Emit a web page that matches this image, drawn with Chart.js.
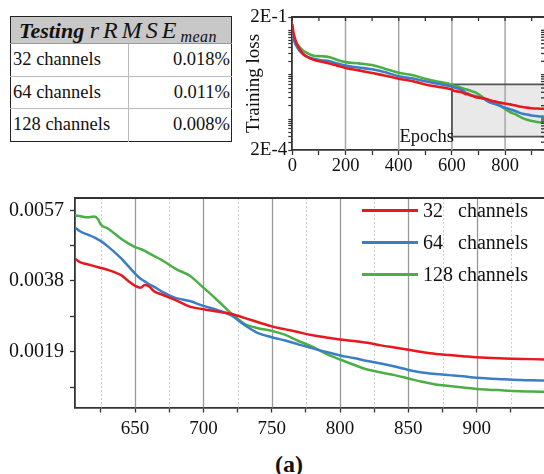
<!DOCTYPE html>
<html>
<head>
<meta charset="utf-8">
<title>Training loss</title>
<script src="https://cdn.jsdelivr.net/npm/chart.js@4.4.1/dist/chart.umd.min.js"></script>
<style>
  html, body { margin: 0; padding: 0; background: #fff; }
  body { position: relative; width: 544px; height: 474px; overflow: hidden; font-family: 'Liberation Serif', 'Times New Roman', serif; color: #111; }
  .chart-box { position: absolute; }
  #insetBox { left: 240px; top: 0; width: 310px; height: 180px; }
  #mainBox { left: 0; top: 180px; width: 550px; height: 262px; }
  #scoreTable { position: absolute; left: 10px; top: 16px; width: 222px; border-collapse: collapse; border: 1.5px solid #222; font-size: 18.5px; }
  #scoreTable th { background: #c8c8c8; height: 26px; padding: 0 0 0 8px; text-align: left; font-weight: normal; border-bottom: 1px solid #999; white-space: nowrap; font-size: 22px; line-height: 22px; }
  #scoreTable th .math { font-style: italic; font-size: 24px; letter-spacing: 4px; }
  #scoreTable th sub { font-size: 16px; letter-spacing: 0.5px; vertical-align: -4px; line-height: 0; }
  #scoreTable td { height: 31.5px; padding: 0 1px 0 2px; border-top: 1px solid #bbb; white-space: nowrap; }
  #scoreTable td.name { width: 114px; }
  #scoreTable td.val { text-align: right; border-left: 1px solid #bbb; }
  #legend { position: absolute; left: 362px; top: 194px; font-size: 20px; }
  .leg-row { height: 32px; display: flex; align-items: center; white-space: pre; }
  .leg-line { width: 56px; height: 3px; margin-right: 5px; }
  #caption { position: absolute; left: 259px; top: 452px; width: 60px; text-align: center; font-size: 24px; font-weight: bold; line-height: 24px; }
</style>
</head>
<body>
<table id="scoreTable">
  <thead><tr><th colspan="2"><b><i>Testing</i></b> <span class="math">rRMSE<sub>mean</sub></span></th></tr></thead>
  <tbody id="scoreRows"></tbody>
</table>
<div class="chart-box" id="insetBox"><canvas id="insetChart"></canvas></div>
<div class="chart-box" id="mainBox"><canvas id="mainChart"></canvas></div>
<div id="legend"></div>
<div id="caption">(a)</div>
<script>
// Chart.js configuration
Chart.defaults.font.family = "'Liberation Serif', 'Times New Roman', serif";
Chart.defaults.color = '#111';
Chart.defaults.animation = false;

// Table values
const tableNames = ['32 channels', '64 channels', '128 channels'];
const testRmse = ['0.018%', '0.011%', '0.008%'];

// Training loss per epoch
const legendLabels = ['32   channels', '64   channels', '128 channels'];
const epochs = [0, 2, 5, 10, 15, 20, 30, 40, 55, 80, 110, 140, 170, 200, 250, 300, 350, 400, 450, 500, 550, 600,
    606, 610, 615, 620, 623, 625, 630, 640, 645, 650, 654, 657, 660, 664, 670, 680, 690, 700, 710, 720, 730, 740,
    750, 760, 770, 780, 790, 800, 810, 820, 830, 840, 850, 860, 870, 880, 890, 900, 920, 940, 960];
const loss32 = [0.14, 0.11, 0.085, 0.065, 0.053, 0.046, 0.036, 0.03, 0.0255, 0.0216, 0.0195, 0.0178, 0.0158, 0.0142, 0.0125, 0.0109, 0.0095, 0.0081, 0.0072, 0.006, 0.0053, 0.0046,
    0.0044, 0.0043, 0.00425, 0.0042, 0.00417, 0.00415, 0.0041, 0.00395, 0.0038, 0.00367, 0.00362, 0.00369, 0.00366, 0.00352, 0.00343, 0.00328, 0.00311, 0.00304, 0.00298, 0.00292, 0.00281, 0.00269,
    0.00258, 0.0025, 0.00242, 0.00234, 0.00228, 0.00223, 0.00219, 0.00214, 0.00207, 0.00201, 0.00195, 0.00189, 0.00184, 0.00181, 0.00178, 0.00175, 0.00172, 0.0017, 0.00168];
const loss64 = [0.11, 0.085, 0.065, 0.052, 0.045, 0.04, 0.033, 0.029, 0.0255, 0.0228, 0.0212, 0.02, 0.0178, 0.016, 0.0145, 0.0132, 0.0113, 0.0092, 0.0083, 0.0071, 0.0062, 0.0054,
    0.00524, 0.00513, 0.00505, 0.00497, 0.00491, 0.00487, 0.00473, 0.0044, 0.0042, 0.004, 0.00386, 0.00379, 0.00372, 0.00364, 0.00351, 0.00334, 0.00326, 0.00313, 0.00302, 0.00288, 0.00262, 0.0024,
    0.00229, 0.0022, 0.00209, 0.00199, 0.00189, 0.0018, 0.00173, 0.00165, 0.00158, 0.0015, 0.00141, 0.00134, 0.0013, 0.00127, 0.00124, 0.0012, 0.00116, 0.00113, 0.00112];
const loss128 = [0.1, 0.085, 0.07, 0.058, 0.052, 0.047, 0.04, 0.035, 0.031, 0.0268, 0.026, 0.0248, 0.0215, 0.0192, 0.018, 0.0165, 0.0135, 0.011, 0.0098, 0.0081, 0.0069, 0.0059,
    0.00557, 0.00554, 0.00551, 0.00553, 0.00545, 0.00531, 0.00521, 0.00493, 0.00481, 0.00471, 0.00466, 0.00461, 0.00455, 0.00447, 0.00435, 0.00412, 0.00394, 0.00362, 0.00329, 0.00294, 0.00265, 0.00253,
    0.00246, 0.00235, 0.00218, 0.00203, 0.00184, 0.00169, 0.00155, 0.00142, 0.00134, 0.00127, 0.00118, 0.00109, 0.00102, 0.00098, 0.00094, 0.0009, 0.00086, 0.00083, 0.00082];

// Inset axes
const insetXMax = 950;
const insetXTicks = [0, 100, 200, 300, 400, 500, 600, 700, 800, 900];
const insetXLabels = [0, 200, 400, 600, 800];
const insetGrid = [200, 400, 600, 800];
const insetYMin = 2e-4;
const insetYMax = 2e-1;
const insetYTicks = [2e-4, 3e-4, 4e-4, 5e-4, 6e-4, 7e-4, 8e-4, 9e-4, 1e-3, 2e-3, 3e-3, 4e-3, 5e-3, 6e-3, 7e-3, 8e-3, 9e-3,
    1e-2, 2e-2, 3e-2, 4e-2, 5e-2, 6e-2, 7e-2, 8e-2, 9e-2, 1e-1, 2e-1];
const insetYLabelValues = [2e-4, 2e-1];
const insetYLabelTexts = ['2E-4', '2E-1'];

// Zoomed (main) axes
const zoomStart = 600;
const mainXMin = 606;
const mainXMax = 950;
const mainXTicks = [625, 650, 675, 700, 725, 750, 775, 800, 825, 850, 875, 900, 925, 950];
const mainXLabels = [650, 700, 750, 800, 850, 900];
const mainYMin = 0.0004;
const mainYMax = 0.00603;
const mainYTicks = [0.00095, 0.0019, 0.00285, 0.0038, 0.00475, 0.0057];
const mainYLabels = [0.0019, 0.0038, 0.0057];

const lineColors = ['#e8191e', '#3a7ec6', '#4caf45'];

function toPoints(values) {
    return epochs.map((e, i) => ({ x: e, y: values[i] }));
}

function makeDatasets(width) {
    return [loss32, loss64, loss128].map((values, i) => ({
        label: legendLabels[i],
        data: toPoints(values),
        borderColor: lineColors[i],
        backgroundColor: lineColors[i],
        borderWidth: width,
        pointRadius: 0,
        tension: 0.3,
        cubicInterpolationMode: 'monotone',
        fill: false
    }));
}

// table rows
const rows = document.getElementById('scoreRows');
tableNames.forEach((name, i) => {
    const tr = document.createElement('tr');
    tr.innerHTML = '<td class="name">' + name + '</td><td class="val">' + testRmse[i] + '</td>';
    rows.appendChild(tr);
});

const axisColor = '#333';

const insetDecor = {
    id: 'insetDecor',
    beforeDatasetsDraw(chart) {
        const { ctx, chartArea: a, scales: { x, y } } = chart;
        const bx = x.getPixelForValue(zoomStart);
        const by0 = y.getPixelForValue(mainYMax);
        const by1 = y.getPixelForValue(mainYMin);
        ctx.save();
        ctx.fillStyle = '#e9e9e9';
        ctx.fillRect(bx, by0, a.right + 6 - bx, by1 - by0);
        ctx.strokeStyle = '#a6a6a6';
        ctx.lineWidth = 1.5;
        insetGrid.forEach(v => {
            const px = x.getPixelForValue(v);
            ctx.beginPath();
            ctx.moveTo(px, a.top);
            ctx.lineTo(px, a.bottom);
            ctx.stroke();
        });
        ctx.strokeStyle = '#555';
        ctx.lineWidth = 1.8;
        ctx.beginPath();
        ctx.moveTo(a.right + 6, by0);
        ctx.lineTo(bx, by0);
        ctx.lineTo(bx, by1);
        ctx.lineTo(a.right + 6, by1);
        ctx.stroke();
        ctx.restore();
    },
    afterDatasetsDraw(chart) {
        const { ctx, scales: { x } } = chart;
        ctx.save();
        ctx.font = "18.5px 'Liberation Serif', serif";
        ctx.fillStyle = '#111';
        ctx.textAlign = 'right';
        ctx.textBaseline = 'alphabetic';
        ctx.fillText('Epochs', x.getPixelForValue(zoomStart) + 2, 142);
        ctx.restore();
    },
    afterDraw(chart) {
        const { ctx, chartArea: a, scales: { x, y } } = chart;
        ctx.save();
        ctx.strokeStyle = axisColor;
        ctx.lineWidth = 1.8;
        ctx.beginPath();
        ctx.moveTo(a.left, a.top);
        ctx.lineTo(a.right, a.top);
        ctx.lineTo(a.right, a.bottom);
        ctx.stroke();
        ctx.lineWidth = 1.3;
        insetXTicks.forEach(v => {
            const px = x.getPixelForValue(v);
            ctx.beginPath();
            ctx.moveTo(px, a.top);
            ctx.lineTo(px, a.top + 4);
            ctx.stroke();
        });
        insetYTicks.forEach(v => {
            const py = y.getPixelForValue(v);
            ctx.beginPath();
            ctx.moveTo(a.right - 4, py);
            ctx.lineTo(a.right, py);
            ctx.stroke();
        });
        ctx.restore();
    }
};

const mainDecor = {
    id: 'mainDecor',
    beforeDatasetsDraw(chart) {
        const { ctx, chartArea: a, scales: { x } } = chart;
        ctx.save();
        mainXTicks.forEach(v => {
            const px = Math.round(x.getPixelForValue(v)) + 0.5;
            const major = v % 50 === 0;
            ctx.strokeStyle = major ? '#999' : '#cfcfcf';
            ctx.lineWidth = major ? 1.3 : 1;
            ctx.setLineDash(major ? [] : [2, 2]);
            ctx.beginPath();
            ctx.moveTo(px, a.top);
            ctx.lineTo(px, a.bottom);
            ctx.stroke();
        });
        ctx.restore();
    },
    afterDraw(chart) {
        const { ctx, chartArea: a } = chart;
        ctx.save();
        ctx.strokeStyle = axisColor;
        ctx.lineWidth = 1.8;
        ctx.beginPath();
        ctx.moveTo(a.left, a.top);
        ctx.lineTo(a.right + 4, a.top);
        ctx.stroke();
        ctx.restore();
    }
};

const insetChart = new Chart(document.getElementById('insetChart'), {
    type: 'line',
    data: { datasets: makeDatasets(2.6) },
    options: {
        responsive: true,
        maintainAspectRatio: false,
        animation: false,
        layout: { padding: { top: 17, right: 5, left: 0, bottom: 0 } },
        plugins: { legend: { display: false }, tooltip: { enabled: false } },
        scales: {
            x: {
                type: 'linear',
                min: 0,
                max: insetXMax,
                afterBuildTicks: s => { s.ticks = insetXTicks.map(v => ({ value: v })); },
                afterFit: s => { s.height = 30; },
                ticks: {
                    autoSkip: false,
                    maxRotation: 0,
                    padding: 0,
                    font: { size: 18.5 },
                    callback: v => insetXLabels.includes(v) ? String(v) : ''
                },
                grid: { drawOnChartArea: false, tickLength: 5, tickWidth: 1.3, tickColor: axisColor },
                border: { color: axisColor, width: 1.8 }
            },
            y: {
                type: 'logarithmic',
                min: insetYMin,
                max: insetYMax,
                afterBuildTicks: s => { s.ticks = insetYTicks.map(v => ({ value: v })); },
                afterFit: s => { s.width = 52.3; },
                ticks: {
                    autoSkip: false,
                    padding: 1,
                    font: { size: 19 },
                    callback: v => {
                        const k = insetYLabelValues.findIndex(t => Math.abs(t - v) < t * 1e-6);
                        return k >= 0 ? insetYLabelTexts[k] : '';
                    }
                },
                title: { display: true, text: 'Training loss', font: { size: 19 }, padding: { top: 3, bottom: 0 } },
                grid: { drawOnChartArea: false, tickLength: 4, tickWidth: 1.2, tickColor: axisColor },
                border: { color: axisColor, width: 1.8 }
            }
        }
    },
    plugins: [insetDecor]
});

const mainChart = new Chart(document.getElementById('mainChart'), {
    type: 'line',
    data: { datasets: makeDatasets(2.5) },
    options: {
        responsive: true,
        maintainAspectRatio: false,
        animation: false,
        layout: { padding: { top: 13, right: 4, left: 0, bottom: 0 } },
        plugins: { legend: { display: false }, tooltip: { enabled: false } },
        scales: {
            x: {
                type: 'linear',
                min: mainXMin,
                max: mainXMax,
                afterBuildTicks: s => { s.ticks = mainXTicks.map(v => ({ value: v })); },
                afterFit: s => { s.height = 34.5; },
                ticks: {
                    autoSkip: false,
                    maxRotation: 0,
                    padding: 5,
                    font: { size: 19 },
                    callback: v => mainXLabels.includes(v) ? String(v) : ''
                },
                grid: { drawOnChartArea: false, tickLength: 5, tickWidth: 1.3, tickColor: axisColor },
                border: { color: axisColor, width: 1.8 }
            },
            y: {
                min: mainYMin,
                max: mainYMax,
                afterBuildTicks: s => { s.ticks = mainYTicks.map(v => ({ value: v })); },
                afterFit: s => { s.width = 75; },
                ticks: {
                    autoSkip: false,
                    padding: 6,
                    font: { size: 20 },
                    callback: v => mainYLabels.includes(v) ? v.toFixed(4) : ''
                },
                grid: { drawOnChartArea: false, tickLength: 5, tickWidth: 1.3, tickColor: axisColor },
                border: { color: axisColor, width: 1.8 }
            }
        }
    },
    plugins: [mainDecor]
});

// legend inside the zoomed plot
const legend = document.getElementById('legend');
mainChart.data.datasets.forEach(ds => {
    const row = document.createElement('div');
    row.className = 'leg-row';
    const line = document.createElement('span');
    line.className = 'leg-line';
    line.style.background = ds.borderColor;
    const text = document.createElement('span');
    text.textContent = ds.label;
    row.appendChild(line);
    row.appendChild(text);
    legend.appendChild(row);
});
</script>
</body>
</html>
